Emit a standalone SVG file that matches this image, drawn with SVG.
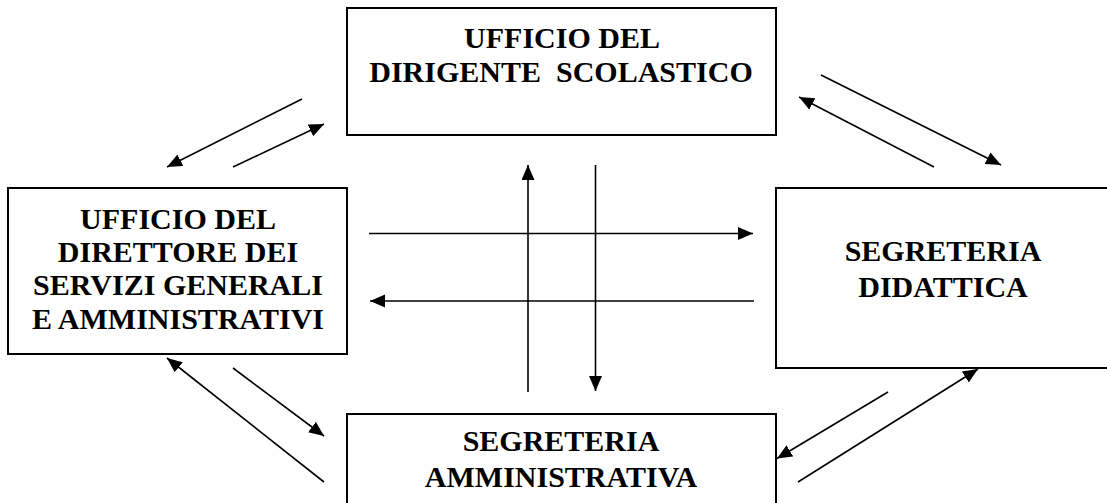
<svg xmlns="http://www.w3.org/2000/svg" width="1107" height="503" viewBox="0 0 1107 503">
<style>
.box{fill:#fff;stroke:#000;stroke-width:2}
.lbl{font-family:'Liberation Serif','DejaVu Serif',serif;font-weight:bold;font-size:30px;fill:#000;text-anchor:middle}
.con{stroke:#000;stroke-width:1.6;fill:none;marker-end:url(#ah)}
</style>
<defs>
<marker id="ah" markerUnits="userSpaceOnUse" markerWidth="16" markerHeight="14" refX="15" refY="6.5" orient="auto" viewBox="0 0 16 14">
<path d="M0,0 L15,6.5 L0,13 Z" fill="#000"/>
</marker>
</defs>
<rect width="1107" height="503" fill="#fff"/>
<g id="dirigente">
<rect class="box" x="347" y="8" width="429" height="127"/>
<text class="lbl" x="562" y="47.5">UFFICIO DEL</text>
<text class="lbl" x="561" y="81.5" xml:space="preserve">DIRIGENTE  SCOLASTICO</text>
</g>
<g id="direttore">
<rect class="box" x="8" y="188" width="339" height="166"/>
<text class="lbl" x="178" y="228.5">UFFICIO DEL</text>
<text class="lbl" x="178" y="262">DIRETTORE DEI</text>
<text class="lbl" x="178" y="295">SERVIZI GENERALI</text>
<text class="lbl" x="178" y="328.5">E AMMINISTRATIVI</text>
</g>
<g id="didattica">
<rect class="box" x="776" y="188" width="345" height="180"/>
<text class="lbl" x="943" y="261">SEGRETERIA</text>
<text class="lbl" x="943" y="296.5">DIDATTICA</text>
</g>
<g id="amministrativa">
<rect class="box" x="347" y="414" width="429" height="100"/>
<text class="lbl" x="561" y="451">SEGRETERIA</text>
<text class="lbl" x="561" y="486.5">AMMINISTRATIVA</text>
</g>
<g id="connectors">
<line class="con" x1="302" y1="99" x2="167" y2="167"/>
<line class="con" x1="233" y1="167" x2="324" y2="124"/>
<line class="con" x1="821" y1="75" x2="1001" y2="165"/>
<line class="con" x1="934" y1="167" x2="799" y2="97"/>
<line class="con" x1="369" y1="233.5" x2="753" y2="233.5"/>
<line class="con" x1="754" y1="301" x2="370" y2="301"/>
<line class="con" x1="528" y1="392" x2="528" y2="165"/>
<line class="con" x1="595.5" y1="165" x2="595.5" y2="391"/>
<line class="con" x1="324" y1="482" x2="167" y2="358"/>
<line class="con" x1="233" y1="368" x2="324" y2="436"/>
<line class="con" x1="888" y1="392" x2="777" y2="458.5"/>
<line class="con" x1="798" y1="482" x2="978" y2="369"/>
</g>
</svg>
